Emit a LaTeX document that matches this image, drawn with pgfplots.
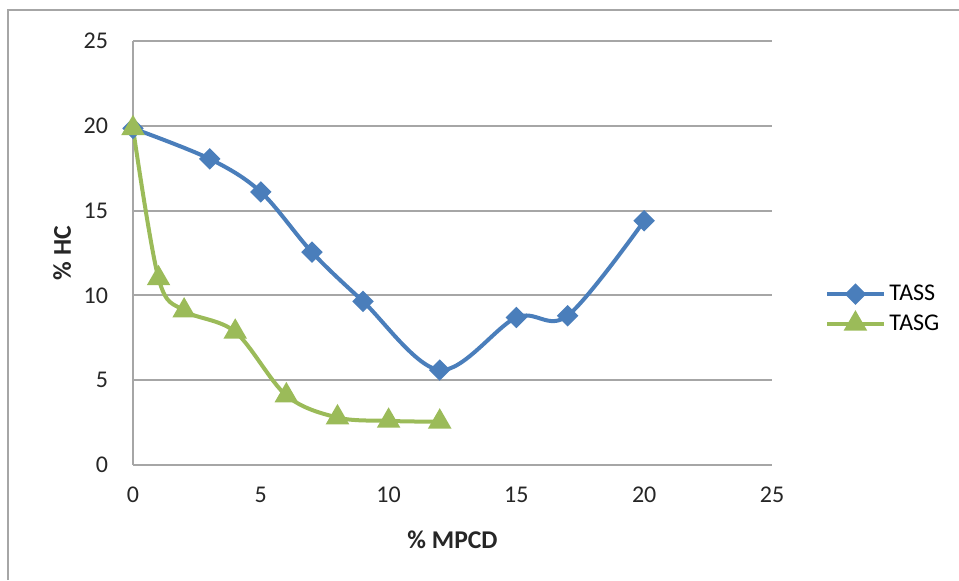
\documentclass[border=0pt]{standalone}
\usepackage{fontspec}
\setmainfont{Carlito}
\usepackage{pgfplots}
\pgfplotsset{compat=1.18}
\definecolor{exblue}{RGB}{74,126,187}
\definecolor{exgreen}{RGB}{155,187,89}
\definecolor{exgrid}{RGB}{166,166,166}
\begin{document}
\begin{tikzpicture}
\useasboundingbox (0,0) rectangle (479.5pt,290pt);
\draw[exgrid,line width=1pt] (4pt,0pt) -- (4pt,285pt) -- (479.5pt,285pt);
\begin{axis}[
  at={(66.5pt,57.5pt)}, anchor=south west,
  scale only axis, width=319.5pt, height=212pt,
  xmin=0, xmax=25, ymin=0, ymax=25,
  xtick={0,5,...,25}, ytick={0,5,...,25},
  axis lines=left, axis line style={-, exgrid, line width=1pt},
  ymajorgrids, grid style={exgrid, line width=1pt},
  major tick length=0pt,
  /pgf/number format/assume math mode=true,
  ticklabel style={font=\fontsize{12}{14}\selectfont, text=black!85},
  xticklabel style={yshift=-7.5pt},
  yticklabel style={xshift=-9pt},
  xlabel={\textbf{\% MPCD}}, ylabel={\textbf{\% HC}},
  label style={font=\fontsize{12.8}{15}\selectfont, text=black!85},
  xlabel style={at={(axis description cs:0.5,-0.177)}, anchor=center},
  ylabel style={at={(axis description cs:-0.111,0.5)}, anchor=center, rotate=0},
  legend style={at={(1.083,0.368)}, anchor=west, draw=none, fill=none,
    font=\fontsize{12}{14}\selectfont, row sep=1.5pt, inner sep=0pt},
  legend cell align=left,
  legend image code/.code={\draw[#1] (0pt,0pt) -- (14pt,0pt); \draw[#1, mark repeat=2, mark phase=2] plot coordinates {(0pt,0pt)(14pt,0pt)(28pt,0pt)}; \draw[#1] (14pt,0pt) -- (28pt,0pt);},
]
\addplot[exblue, line width=2pt, smooth, tension=0.55, mark=square*, mark size=2.8pt, mark options={rotate=45, solid}] coordinates {
(0,19.85) (3,18.05) (5,16.1) (7,12.55) (9,9.65) (12,5.6) (15,8.7) (17,8.8) (20,14.4)};
\addlegendentry{TASS}
\addplot[exgreen, line width=2pt, smooth, tension=0.55, mark=triangle*, mark size=4.8pt, mark options={solid}] coordinates {
(0,19.85) (1,11.0) (2,9.1) (4,7.85) (6,4.1) (8,2.8) (10,2.6) (12,2.55)};
\addlegendentry{TASG}
\end{axis}
\end{tikzpicture}
\end{document}
